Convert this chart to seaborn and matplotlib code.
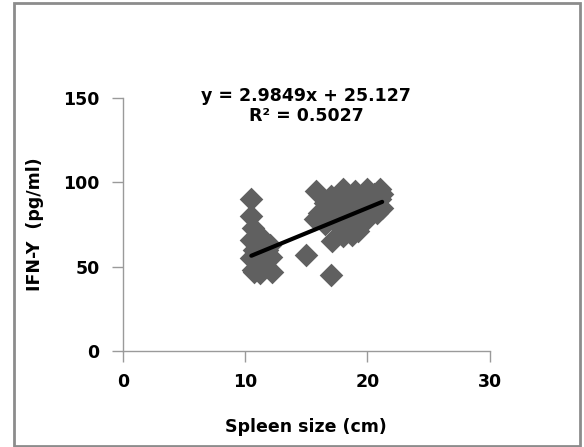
import numpy as np
import pandas as pd
import matplotlib.pyplot as plt
import matplotlib.patches as patches
import seaborn as sns

# spleen size (cm) and IFN-Y (pg/ml)
spleen = [10.5, 10.5, 10.6, 10.5, 10.7, 10.5, 10.6, 11.0, 11.2, 11.5,
          11.8, 12.0, 11.0, 11.5, 12.2, 11.2, 10.9, 12.1, 10.7,
          15.8, 16.0, 15.7, 16.5, 17.0, 17.5, 18.0, 18.0, 18.5, 19.0,
          19.0, 19.5, 20.0, 20.0, 20.5, 21.0, 21.0, 21.2, 20.8, 19.5,
          18.5, 17.5, 17.1, 18.0, 18.7, 19.2, 19.0, 20.0, 16.5, 17.0,
          15.0, 17.0, 20.5, 21.2]
ifn = [90, 80, 73, 66, 60, 55, 48, 62, 68, 65,
       60, 63, 52, 50, 47, 46, 58, 56, 47,
       95, 82, 78, 88, 92, 85, 96, 90, 88, 95,
       85, 92, 96, 88, 93, 96, 90, 85, 82, 80,
       78, 75, 65, 68, 69, 71, 76, 78, 75, 80,
       57, 45, 86, 93]

slope = 2.9849
intercept = 25.127
r2 = 0.5027

df = pd.DataFrame({'spleen': spleen, 'ifn': ifn})

sns.set_style('white')
plt.rcParams['font.family'] = ['DejaVu Sans']
plt.rcParams['text.color'] = 'black'
plt.rcParams['axes.labelcolor'] = 'black'
plt.rcParams['xtick.color'] = 'black'
plt.rcParams['ytick.color'] = 'black'

fig = plt.figure(figsize=(5.84, 4.47), dpi=100)
ax = fig.add_axes([0.2106, 0.2148, 0.628, 0.566])

sns.scatterplot(data=df, x='spleen', y='ifn', marker='D', s=145,
                color='#606060', linewidth=0, ax=ax, zorder=2)

xs = np.array([df['spleen'].min(), df['spleen'].max()])
ax.plot(xs, slope * xs + intercept, color='black', linewidth=3,
        solid_capstyle='round', zorder=3)

ax.set_xlim(0, 30)
ax.set_ylim(0, 150)
ax.set_xticks([0, 10, 20, 30])
ax.set_yticks([0, 50, 100, 150])
sns.despine(ax=ax)
for side in ['left', 'bottom']:
    ax.spines[side].set_color('#9a9a9a')
    ax.spines[side].set_linewidth(1)
ax.tick_params(axis='both', direction='out', length=8, width=1,
               color='#9a9a9a', labelcolor='black', labelsize=12.5,
               bottom=True, left=True)
ax.tick_params(axis='y', pad=9)
ax.tick_params(axis='x', pad=8)
for lab in ax.get_xticklabels() + ax.get_yticklabels():
    lab.set_fontweight('bold')

ax.set_xlabel('Spleen size (cm)', fontsize=12.5, fontweight='bold', labelpad=19)
ax.set_ylabel('IFN-Y  (pg/ml)', fontsize=12.5, fontweight='bold', labelpad=14)

ax.text(0.5, 0.97, f'y = {slope}x + {intercept}\nR² = {r2}',
        transform=ax.transAxes, ha='center', va='center',
        fontsize=12.5, fontweight='bold', linespacing=1.15)

fig.patches.append(patches.Rectangle((0.024, 0.003), 0.969, 0.991,
                                     transform=fig.transFigure, fill=False,
                                     edgecolor='#8c8c8c', linewidth=2))

fig.savefig('out.png', dpi=100)
